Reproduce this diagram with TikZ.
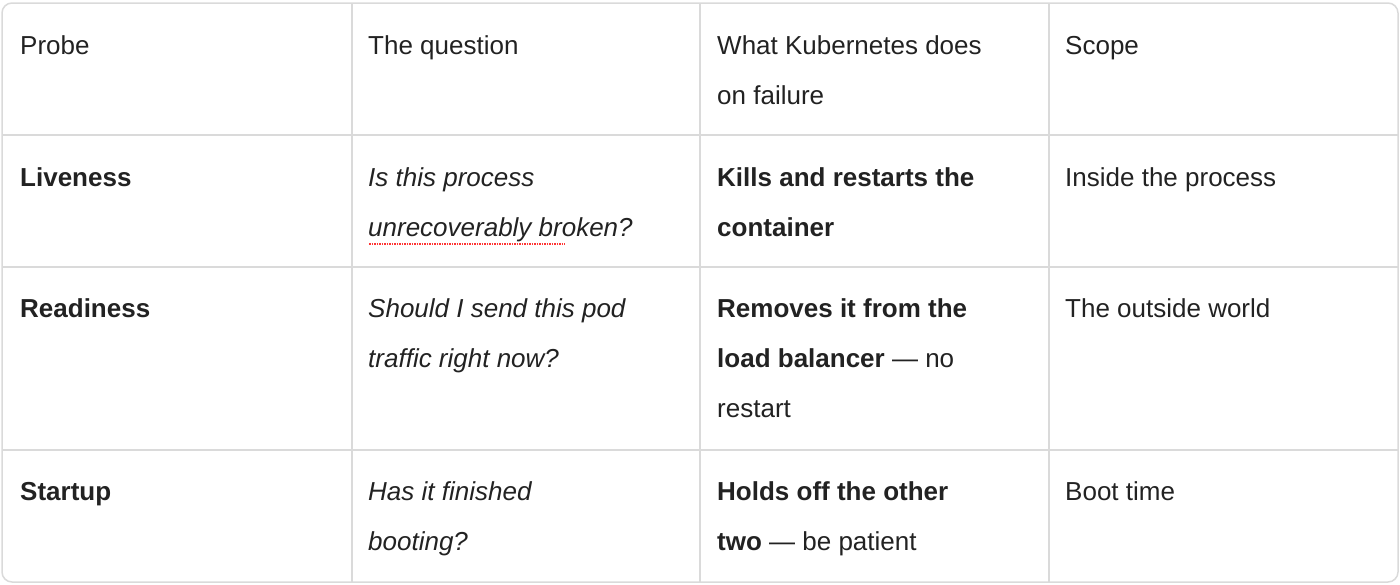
\documentclass[tikz,border=0pt]{standalone}
\usepackage{fontspec}
\setmainfont{Liberation Sans}
\usetikzlibrary{positioning}
\definecolor{gridline}{RGB}{218,218,218}
\definecolor{ink}{RGB}{34,34,34}
\tikzset{
  cell/.style={anchor=base west, inner sep=0pt, text=ink, font=\fontsize{26}{30}\selectfont},
  grid/.style={draw=gridline, line width=1.5pt}
}
\begin{document}
\begin{tikzpicture}[x=1pt,y=-1pt]
  \useasboundingbox (0,0) rectangle (1400,584);
  % grid
  \draw[grid, rounded corners=10pt] (2,3) rectangle (1398,582);
  \draw[grid, line width=2.5pt] (2,135) -- (1398,135);
  \foreach \y in {267,450} \draw[grid] (2,\y) -- (1398,\y);
  \foreach \x in {352,700,1049} \draw[grid] (\x,3) -- (\x,582);
  % header
  \node[cell] (h1) at (20,54) {Probe};
  \node[cell] (h2) at (368,54) {The question};
  \node[cell] (h3) at (717,54) {What Kubernetes does};
  \node[cell] (h3b) at (717,104) {on failure};
  \node[cell] (h4) at (1065,54) {Scope};
  % liveness
  \node[cell] (l1) at (20,186) {\bfseries Liveness};
  \node[cell] (l2) at (368,186) {\itshape Is this process};
  \node[cell] (l2b) at (368,236) {\itshape unrecoverably broken?};
  \draw[red!80, densely dotted, line width=1.5pt] (369,244) -- (565,244);
  \node[cell] (l3) at (717,186) {\bfseries Kills and restarts the};
  \node[cell] (l3b) at (717,236) {\bfseries container};
  \node[cell] (l4) at (1065,186) {Inside the process};
  % readiness
  \node[cell] (r1) at (20,317) {\bfseries Readiness};
  \node[cell] (r2) at (368,317) {\itshape Should I send this pod};
  \node[cell] (r2b) at (368,367) {\itshape traffic right now?};
  \node[cell] (r3) at (717,317) {\bfseries Removes it from the};
  \node[cell] (r3b) at (717,367) {\textbf{load balancer} — no};
  \node[cell] (r3c) at (717,417) {restart};
  \node[cell] (r4) at (1065,317) {The outside world};
  % startup
  \node[cell] (s1) at (20,500) {\bfseries Startup};
  \node[cell] (s2) at (368,500) {\itshape Has it finished};
  \node[cell] (s2b) at (368,550) {\itshape booting?};
  \node[cell] (s3) at (717,500) {\bfseries Holds off the other};
  \node[cell] (s3b) at (717,550) {\textbf{two} — be patient};
  \node[cell] (s4) at (1065,500) {Boot time};
\end{tikzpicture}
\end{document}
